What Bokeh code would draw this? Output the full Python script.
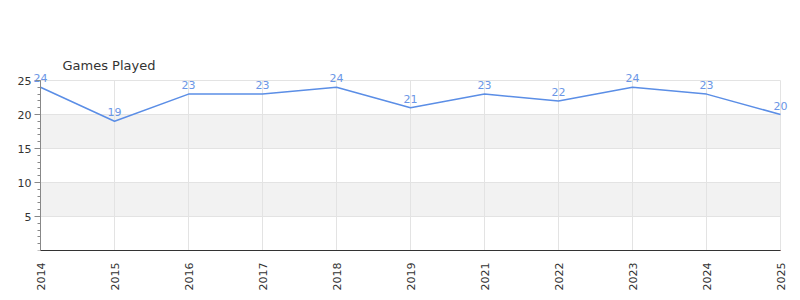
import math
from bokeh.plotting import figure
from bokeh.models import (ColumnDataSource, FixedTicker, Range1d, Label)
from bokeh.embed import file_html
from bokeh.resources import INLINE

years = ["2014", "2015", "2016", "2017", "2018", "2019", "2021", "2022", "2023", "2024", "2025"]
games = [24, 19, 23, 23, 24, 21, 23, 22, 24, 23, 20]
y_ticks = [5, 10, 15, 20, 25]
y_max = 25

idx = list(range(len(years)))
n_last = len(years) - 1
src = ColumnDataSource(dict(x=idx, y=games))

# frame is padded beyond the data area so that the value labels are not clipped
px_per_x = 74.0
px_per_y = 6.8
p = figure(width=800, height=300, output_backend="svg", toolbar_location=None,
           x_range=Range1d(-30 / px_per_x, n_last + 15 / px_per_x),
           y_range=Range1d(0, y_max + 8 / px_per_y),
           min_border_left=10, min_border_right=5, min_border_top=72, min_border_bottom=50)

p.title.text = "Games Played"
p.title.text_font = "DejaVu Sans"
p.title.text_font_style = "normal"
p.title.text_font_size = "13px"
p.title.text_color = "#333333"
p.title.offset = 52
p.title.standoff = 0

p.outline_line_color = None
p.background_fill_color = "white"

# alternating bands between y ticks (5-10, 15-20)
band_bottoms = y_ticks[0:-1:2]
band_tops = y_ticks[1::2]
p.quad(left=[0] * len(band_bottoms), right=[n_last] * len(band_bottoms),
       bottom=band_bottoms, top=band_tops,
       fill_color="#f2f2f2", line_color=None, level="image")

# grids
p.xgrid.ticker = FixedTicker(ticks=idx)
p.xgrid.grid_line_color = "#e3e3e3"
p.xgrid.cross_bounds = (0, y_max)
p.ygrid.ticker = FixedTicker(ticks=y_ticks)
p.ygrid.grid_line_color = "#e3e3e3"
p.ygrid.cross_bounds = (0, n_last)

# y axis
p.yaxis.fixed_location = 0
p.yaxis.bounds = (0, y_max)
p.yaxis.ticker = FixedTicker(ticks=y_ticks, minor_ticks=list(range(0, y_max + 1)))
p.yaxis.axis_line_color = "#888888"
p.yaxis.major_tick_line_color = "#888888"
p.yaxis.minor_tick_line_color = "#888888"
p.yaxis.major_tick_out = 6
p.yaxis.major_tick_in = 0
p.yaxis.minor_tick_out = 3
p.yaxis.minor_tick_in = 0
p.yaxis.major_label_text_font = "DejaVu Sans"
p.yaxis.major_label_text_font_size = "11px"
p.yaxis.major_label_text_color = "#333333"
p.yaxis.major_label_standoff = 3

# x axis
p.xaxis.bounds = (0, n_last)
p.xaxis.ticker = FixedTicker(ticks=idx)
p.xaxis.major_label_overrides = {i: y for i, y in enumerate(years)}
p.xaxis.major_label_orientation = math.pi / 2
p.xaxis.axis_line_color = "#333333"
p.xaxis.axis_line_width = 1
p.xaxis.major_tick_line_color = None
p.xaxis.minor_tick_line_color = None
p.xaxis.major_label_text_font = "DejaVu Sans"
p.xaxis.major_label_text_font_size = "11px"
p.xaxis.major_label_text_color = "#333333"
p.xaxis.major_label_standoff = 6

# red baseline at zero
p.segment(x0=[0], y0=[0], x1=[n_last], y1=[0], line_color="#dd0000", line_width=1)

p.line("x", "y", source=src, line_color="#5b8ee6", line_width=1.5)

for xi, g in zip(idx, games):
    p.add_layout(Label(x=xi, y=g, text=str(g), y_offset=5,
                       text_align="center", text_baseline="bottom",
                       text_font_size="11px", text_color="#6b96e6", text_font="DejaVu Sans"))

open("out.html", "w").write(file_html(p, INLINE))
